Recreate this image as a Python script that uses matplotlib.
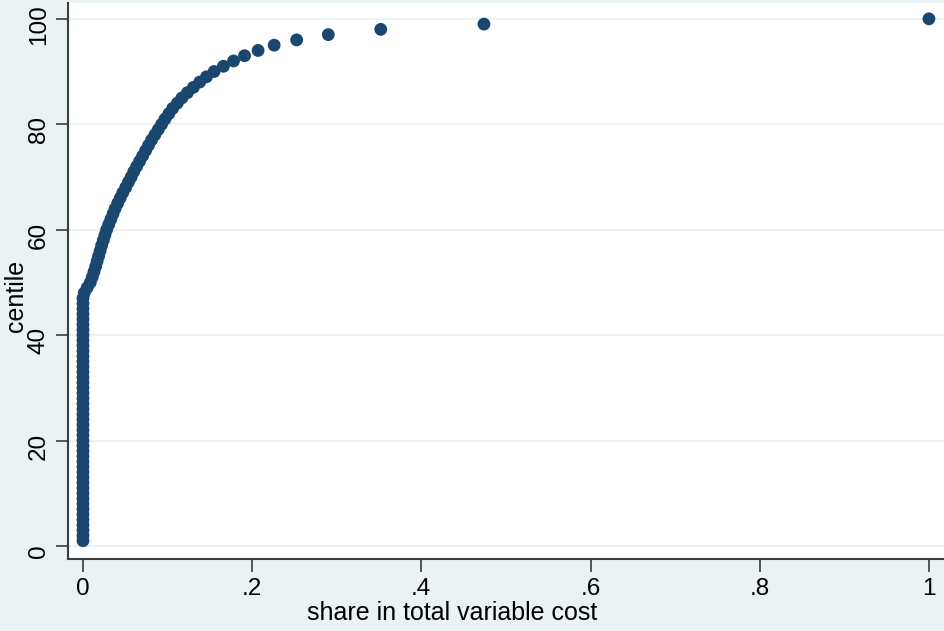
import numpy as np
import matplotlib.pyplot as plt
import matplotlib.transforms as mtransforms

plt.rcParams["font.family"] = ["Liberation Sans", "DejaVu Sans"]

# centiles 1..100 and the share in total variable cost at each centile
centile = list(range(1, 101))
share_low = [0.0] * 47  # centiles 1-47 sit at zero
share_high = [
    0.0015, 0.005, 0.0087, 0.011, 0.013, 0.015, 0.0167, 0.0185, 0.0203, 0.022,
    0.024, 0.026, 0.028, 0.0305, 0.033, 0.0355, 0.038, 0.041, 0.044, 0.047,
    0.0505, 0.0537, 0.057, 0.060, 0.0635, 0.067, 0.0705, 0.074, 0.0775, 0.081,
    0.085, 0.089, 0.093, 0.097, 0.1015, 0.106, 0.1115, 0.117, 0.1235, 0.1305,
    0.138, 0.146, 0.155, 0.166, 0.178, 0.191, 0.207, 0.226, 0.2526, 0.290,
    0.352, 0.474, 1.0,
]
share = share_low + share_high

x_ticks = [0, 0.2, 0.4, 0.6, 0.8, 1.0]
x_tick_labels = ["0", ".2", ".4", ".6", ".8", "1"]
y_ticks = [0, 20, 40, 60, 80, 100]

bg = "#eaf2f3"
navy = "#1a476f"
axis_col = "#3c3c3c"

fig = plt.figure(figsize=(9.45, 6.31), dpi=100, facecolor=bg)
ax = fig.add_axes([68 / 945, 72 / 631, 1 - 68 / 945, 556 / 631])
ax.set_facecolor("white")

ax.scatter(share, centile, s=85, color=navy, edgecolors="none", zorder=3)

ax.set_xlim(-0.0177, 1.019)
ax.set_ylim(-2.47, 103.0)

ax.set_xticks(x_ticks)
ax.set_xticklabels(x_tick_labels)
ax.set_yticks(y_ticks)
ax.yaxis.grid(True, color=bg, linewidth=1.5, zorder=0)
ax.set_axisbelow(True)

for side in ["top", "right"]:
    ax.spines[side].set_visible(False)
for side in ["left", "bottom"]:
    ax.spines[side].set_color(axis_col)
    ax.spines[side].set_linewidth(1.5)

ax.tick_params(axis="both", direction="out", length=9, width=1.2,
               color=axis_col, labelsize=17.5, labelcolor="black")
ax.tick_params(axis="x", pad=5)
ax.tick_params(axis="y", pad=4)
# stata puts the rotated labels a few pixels below the tick
shift = mtransforms.ScaledTranslation(0, -0.055, fig.dpi_scale_trans)
for lab in ax.get_yticklabels():
    lab.set_rotation(90)
    lab.set_va("center")
    lab.set_transform(lab.get_transform() + shift)

ax.set_xlabel("share in total variable cost", fontsize=18, labelpad=0)
ax.xaxis.set_label_coords(0.438, -0.075)
ax.set_ylabel("centile", fontsize=18, labelpad=0)
ax.yaxis.set_label_coords(-0.046, 0.473)

fig.savefig("out.png", dpi=100, facecolor=bg)
